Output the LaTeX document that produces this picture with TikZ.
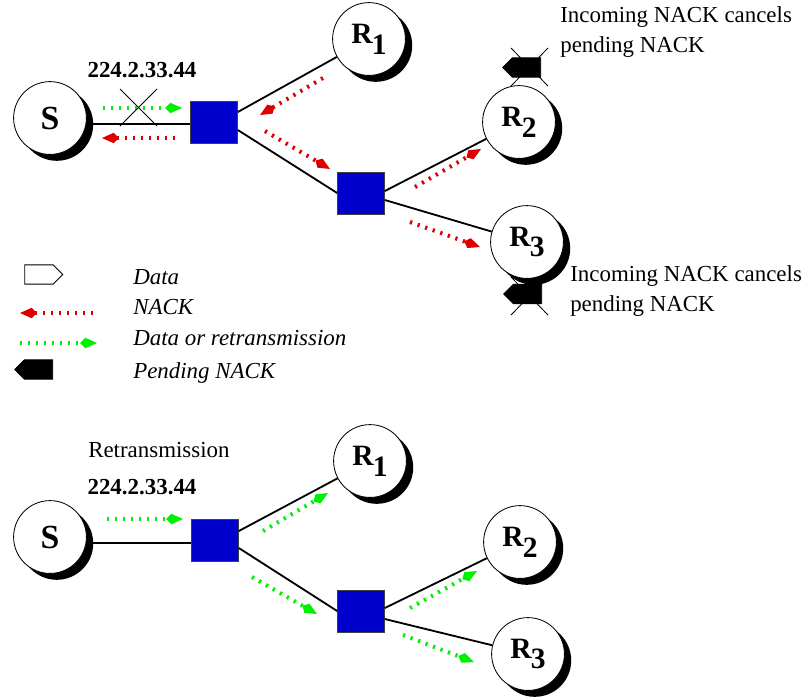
\documentclass[tikz,border=0pt]{standalone}
\usepackage{fontspec}
\setmainfont{Liberation Serif}
\usepackage{tikz}
\usetikzlibrary{arrows.meta, shadows, shapes.symbols}

\definecolor{routerblue}{RGB}{0,0,204}
\definecolor{nackred}{RGB}{220,0,0}
\definecolor{datagreen}{RGB}{0,240,0}

\newcommand{\rcv}[1]{R\kern-0.5pt\raisebox{-0.27cm}{#1}}

\begin{document}
\begin{tikzpicture}[
    font=\fontsize{16.3}{21.3}\selectfont, inner sep=0pt,
    host/.style={draw, circle, fill=white, line width=0.6pt, minimum size=1.82cm,
        font=\fontsize{21}{24}\selectfont\bfseries,
        drop shadow={shadow xshift=0.17cm, shadow yshift=-0.16cm, fill=black, opacity=1}},
    src/.style={host, font=\fontsize{24}{26}\selectfont\bfseries},
    router/.style={draw=black!75, fill=routerblue, minimum width=1.17cm, minimum height=1.05cm, line width=0.6pt},
    link/.style={line width=1.3pt},
    nack/.style={nackred, line width=2.9pt, dash pattern=on 1.6pt off 4.1pt,
        -{Kite[length=0.42cm, width=0.26cm, inset=0.13cm]}},
    fwd/.style={nack, datagreen},
    icon/.style={signal, draw, line width=0.6pt, minimum width=0.95cm, minimum height=0.48cm},
    cross/.style={line width=0.6pt},
]
    \useasboundingbox (0,0) rectangle (20.1,-17.45);

    % NACK phase
    \node[src] (S) at (1.25,-2.95) {S};
    \node[router] (X) at (5.35,-3.05) {};
    \node[router] (Y) at (9.025,-4.825) {};
    \node[host] (R1) at (9.225,-0.975) {\rcv{1}};
    \node[host] (R2) at (12.975,-3.05) {\rcv{2}};
    \node[host] (R3) at (13.175,-6.05) {\rcv{3}};

    \draw[link] (S.-10) -- (S.-10 -| X.west);
    \draw[link] ([yshift=0.25cm]X.east) -- (R1);
    \draw[link] ([yshift=-0.2cm]X.east) -- (Y.west);
    \draw[link] ([yshift=0.05cm]Y.east) -- (R2);
    \draw[link] ([yshift=-0.175cm]Y.east) -- (R3);

    \node[font=\fontsize{16.3}{21.3}\selectfont\bfseries] (addr) at (3.55,-1.75) {224.2.33.44};
    \draw[fwd] (2.575,-2.7) -- (4.55,-2.7);
    \draw[cross] (3.0,-2.225) -- (3.925,-3.15);
    \draw[cross] (3.925,-2.225) -- (3.0,-3.15);
    \draw[nack] (4.375,-3.45) -- (2.55,-3.45);
    \draw[nack] (8.075,-1.95) -- (6.5,-2.875);
    \draw[nack] (6.625,-3.275) -- (8.25,-4.225);
    \draw[nack] (10.375,-4.675) -- (12.025,-3.725);
    \draw[nack] (10.25,-5.55) -- (12.0,-6.175);

    % suppressed NACKs
    \draw[cross] (12.775,-1.2) -- (13.7,-2.15);
    \draw[cross] (13.7,-1.2) -- (12.775,-2.15);
    \node[icon, fill=black, signal to=west] (pend2) at (13.1625,-1.6875) {};
    \node[anchor=west, align=left] (cancel2) at (14.0,-0.8) {Incoming NACK cancels\\pending NACK};
    \draw[cross] (12.775,-6.925) -- (13.7,-7.875);
    \draw[cross] (13.7,-6.925) -- (12.775,-7.875);
    \node[icon, fill=black, signal to=west] (pend3) at (13.1875,-7.35) {};
    \node[anchor=west, align=left] (cancel3) at (14.25,-7.275) {Incoming NACK cancels\\pending NACK};

    % legend
    \node[icon, fill=white, signal to=east] (datakey) at (0.975,-6.8625) {};
    \node[anchor=west, font=\fontsize{16.3}{21.3}\selectfont\itshape] (datatxt) at (3.325,-6.925) {Data};
    \draw[nack] (2.325,-7.825) -- (0.5,-7.825);
    \node[anchor=west, font=\fontsize{16.3}{21.3}\selectfont\itshape] (nacktxt) at (3.325,-7.675) {NACK};
    \draw[fwd] (0.5,-8.575) -- (2.425,-8.575);
    \node[anchor=west, font=\fontsize{16.3}{21.3}\selectfont\itshape] (fwdtxt) at (3.325,-8.45) {Data or retransmission};
    \node[icon, fill=black, signal to=west] (pendkey) at (0.9625,-9.2375) {};
    \node[anchor=west, font=\fontsize{16.3}{21.3}\selectfont\itshape] (pendtxt) at (3.325,-9.325) {Pending NACK};

    % retransmission phase
    \node[src] (Sb) at (1.25,-13.425) {S};
    \node[router] (Xb) at (5.375,-13.5) {};
    \node[router] (Yb) at (9.025,-15.275) {};
    \node[host] (R1b) at (9.25,-11.525) {\rcv{1}};
    \node[host] (R2b) at (13,-13.55) {\rcv{2}};
    \node[host] (R3b) at (13.2,-16.35) {\rcv{3}};

    \draw[link] (Sb.-10) -- (Sb.-10 -| Xb.west);
    \draw[link] ([yshift=0.225cm]Xb.east) -- (R1b);
    \draw[link] ([yshift=-0.2cm]Xb.east) -- (Yb.west);
    \draw[link] ([yshift=0.075cm]Yb.east) -- (R2b);
    \draw[link] ([yshift=-0.2cm]Yb.east) -- (R3b);

    \node[anchor=west] (retx) at (2.2,-11.25) {Retransmission};
    \node[font=\fontsize{16.3}{21.3}\selectfont\bfseries] (addrb) at (3.55,-12.175) {224.2.33.44};
    \draw[fwd] (2.675,-12.975) -- (4.575,-12.975);
    \draw[fwd] (6.575,-13.275) -- (8.2,-12.325);
    \draw[fwd] (6.3,-14.425) -- (7.925,-15.35);
    \draw[fwd] (10.25,-15.2) -- (11.925,-14.275);
    \draw[fwd] (10.075,-15.875) -- (11.85,-16.55);
\end{tikzpicture}
\end{document}
